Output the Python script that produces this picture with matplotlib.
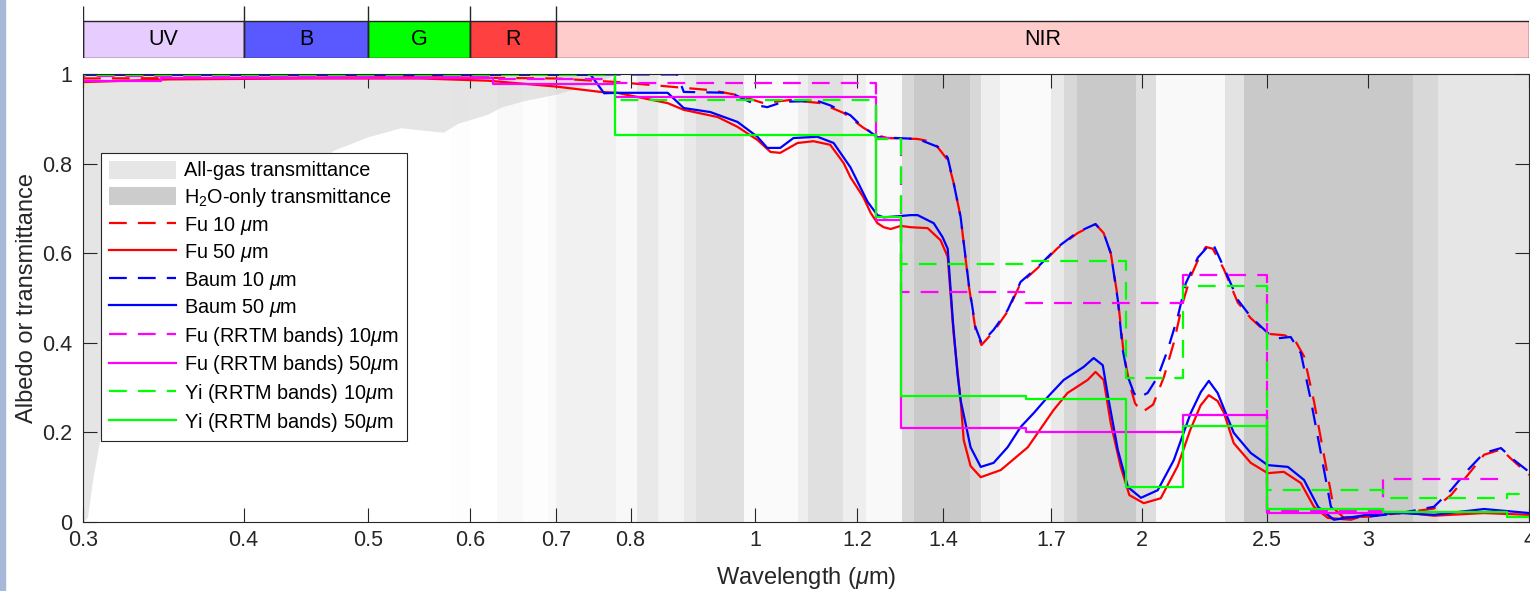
import numpy as np
import matplotlib
matplotlib.use("Agg")
import matplotlib.pyplot as plt
from matplotlib.patches import Patch, Rectangle
from matplotlib.colors import LinearSegmentedColormap

plt.rcParams['font.family'] = ['Liberation Sans', 'DejaVu Sans']
plt.rcParams['mathtext.fontset'] = 'custom'
plt.rcParams['mathtext.rm'] = 'Liberation Sans'
plt.rcParams['mathtext.it'] = 'Liberation Sans:italic'

# --------------------------
# colour bands across the top
# --------------------------
band_edges = [0.3, 0.4, 0.5, 0.6, 0.7, 4.0]
band_names = ["UV", "B", "G", "R", "NIR"]
band_colors = ["#e6ccff", "#5959ff", "#00ff00", "#ff4040", "#ffcccc"]

# --------------------------
# gas transmittance (band-mean)
# --------------------------
allgas_wl = [0.300, 0.3024, 0.3054, 0.309, 0.32, 0.33, 0.35, 0.40, 0.45, 0.47, 0.50,
             0.53, 0.55, 0.572, 0.587, 0.619, 0.634, 0.66, 0.70, 0.72, 0.75, 0.78, 4.0]
allgas_T = [0.0, 0.011, 0.10, 0.18, 0.35, 0.48, 0.60, 0.72, 0.79, 0.83, 0.86,
            0.88, 0.875, 0.87, 0.89, 0.91, 0.926, 0.94, 0.955, 0.965, 0.98, 1.0, 1.0]

h2o_edges = [0.30, 0.58, 0.60, 0.63, 0.66, 0.69, 0.70, 0.74, 0.78, 0.81, 0.84, 0.88,
             0.90, 0.98, 1.08, 1.10, 1.17, 1.22, 1.30, 1.33, 1.47, 1.50, 1.55, 1.70,
             1.74, 1.78, 1.98, 2.05, 2.32, 2.40, 3.25, 3.40, 4.00]
h2o_T = [1.0, 0.97, 1.0, 0.9, 0.97, 0.9, 0.75, 0.75, 0.88, 0.6, 0.8, 0.6,
         0.45, 0.92, 0.7, 0.45, 0.7, 0.9, 0.3, 0.02, 0.3, 0.7, 0.92, 0.6,
         0.3, 0.02, 0.4, 0.9, 0.5, 0.02, 0.3, 0.55]

# --------------------------
# ice cloud albedo curves
# --------------------------
fu10_wl = [0.30, 0.55, 0.70, 0.781, 0.923, 0.969, 1.015, 1.065, 1.124, 1.172, 1.214,
           1.241, 1.268, 1.338, 1.377, 1.412, 1.427, 1.445, 1.466, 1.484, 1.500, 1.533,
           1.572, 1.609, 1.659, 1.720, 1.782, 1.840, 1.867, 1.891, 1.915, 1.935, 1.955,
           1.975, 2.000, 2.040, 2.080, 2.117, 2.151, 2.180, 2.215, 2.242, 2.270, 2.315,
           2.374, 2.430, 2.505, 2.578, 2.625, 2.673, 2.721, 2.770, 2.820, 2.870, 2.997,
           3.180, 3.374, 3.478, 3.585, 3.690, 3.804, 3.895, 4.000]
fu10_val = [0.990, 0.993, 0.990, 0.982, 0.964, 0.953, 0.935, 0.942, 0.935, 0.913, 0.880,
            0.864, 0.857, 0.855, 0.848, 0.808, 0.757, 0.681, 0.530, 0.430, 0.395, 0.425,
            0.470, 0.533, 0.567, 0.612, 0.645, 0.665, 0.645, 0.600, 0.500, 0.377, 0.310,
            0.265, 0.245, 0.262, 0.324, 0.400, 0.489, 0.545, 0.590, 0.614, 0.610, 0.565,
            0.490, 0.455, 0.420, 0.417, 0.410, 0.370, 0.270, 0.150, 0.030, 0.010, 0.012,
            0.020, 0.030, 0.060, 0.105, 0.150, 0.162, 0.135, 0.105]

fu50_wl = [0.30, 0.35, 0.45, 0.55, 0.62, 0.70, 0.758, 0.781, 0.855, 0.880, 0.935, 0.969,
           1.004, 1.028, 1.046, 1.079, 1.110, 1.144, 1.172, 1.186, 1.214, 1.230, 1.245,
           1.259, 1.275, 1.298, 1.321, 1.362, 1.394, 1.412, 1.427, 1.445, 1.453, 1.471,
           1.498, 1.553, 1.630, 1.707, 1.750, 1.814, 1.840, 1.867, 1.891, 1.925, 1.955,
           2.006, 2.068, 2.132, 2.180, 2.221, 2.254, 2.290, 2.315, 2.357, 2.430, 2.505,
           2.578, 2.658, 2.721, 2.790, 2.908, 3.013, 3.180, 3.374, 3.690, 4.000]
fu50_val = [0.982, 0.988, 0.990, 0.990, 0.985, 0.972, 0.960, 0.958, 0.935, 0.920, 0.904, 0.882,
            0.853, 0.826, 0.824, 0.846, 0.850, 0.842, 0.801, 0.770, 0.725, 0.690, 0.667,
            0.658, 0.654, 0.661, 0.658, 0.656, 0.629, 0.592, 0.420, 0.272, 0.183, 0.125,
            0.100, 0.116, 0.167, 0.250, 0.288, 0.317, 0.335, 0.317, 0.220, 0.123, 0.060,
            0.042, 0.053, 0.125, 0.205, 0.260, 0.283, 0.270, 0.245, 0.176, 0.132, 0.109,
            0.112, 0.087, 0.034, 0.009, 0.005, 0.020, 0.022, 0.014, 0.020, 0.016]

baum10_wl = [0.30, 0.870, 0.880, 0.957, 1.004, 1.022, 1.052, 1.118, 1.144, 1.186, 1.208,
             1.245, 1.338, 1.394, 1.412, 1.427, 1.445, 1.466, 1.484, 1.500, 1.533, 1.572,
             1.609, 1.659, 1.720, 1.782, 1.840, 1.867, 1.891, 1.915, 1.932, 1.950, 1.971,
             1.985, 2.020, 2.057, 2.094, 2.132, 2.163, 2.210, 2.250, 2.270, 2.315, 2.374,
             2.430, 2.505, 2.550, 2.610, 2.658, 2.706, 2.755, 2.805, 2.856, 2.997, 3.180,
             3.374, 3.478, 3.585, 3.690, 3.804, 3.895, 4.000]
baum10_val = [0.999, 0.999, 0.960, 0.958, 0.930, 0.926, 0.938, 0.940, 0.930, 0.908, 0.886,
              0.859, 0.855, 0.835, 0.813, 0.757, 0.681, 0.533, 0.435, 0.400, 0.429, 0.473,
              0.536, 0.569, 0.614, 0.647, 0.665, 0.645, 0.600, 0.496, 0.384, 0.324, 0.288,
              0.277, 0.288, 0.324, 0.384, 0.458, 0.533, 0.590, 0.615, 0.622, 0.569, 0.496,
              0.458, 0.422, 0.410, 0.413, 0.377, 0.272, 0.154, 0.034, 0.009, 0.012, 0.020,
              0.034, 0.071, 0.116, 0.154, 0.165, 0.138, 0.112]

baum50_wl = [0.30, 0.745, 0.763, 0.781, 0.855, 0.880, 0.923, 0.969, 1.004, 1.022, 1.046,
             1.071, 1.118, 1.151, 1.186, 1.223, 1.245, 1.259, 1.298, 1.321, 1.338, 1.377,
             1.399, 1.412, 1.425, 1.437, 1.445, 1.471, 1.498, 1.533, 1.572, 1.609, 1.647,
             1.689, 1.738, 1.801, 1.834, 1.864, 1.884, 1.915, 1.950, 1.996, 2.057, 2.117,
             2.182, 2.222, 2.254, 2.290, 2.357, 2.430, 2.505, 2.597, 2.673, 2.741, 2.820,
             2.997, 3.180, 3.374, 3.690, 4.000]
baum50_val = [0.998, 0.998, 0.957, 0.958, 0.958, 0.924, 0.915, 0.893, 0.860, 0.835, 0.835,
              0.857, 0.860, 0.846, 0.792, 0.715, 0.685, 0.680, 0.683, 0.685, 0.685, 0.667,
              0.636, 0.610, 0.450, 0.330, 0.272, 0.167, 0.123, 0.132, 0.167, 0.212, 0.243,
              0.279, 0.317, 0.346, 0.366, 0.350, 0.272, 0.161, 0.078, 0.054, 0.071, 0.138,
              0.243, 0.290, 0.315, 0.288, 0.199, 0.154, 0.127, 0.123, 0.094, 0.034, 0.005,
              0.016, 0.020, 0.016, 0.029, 0.020]

# --------------------------
# RRTM shortwave band averages
# --------------------------
rrtm_edges = [0.263, 0.345, 0.442, 0.625, 0.778, 1.242, 1.299, 1.626, 1.942, 2.151,
              2.500, 3.077, 3.846, 12.195]
fu_rrtm10 = [0.995, 0.995, 0.993, 0.988, 0.980, 0.857, 0.513, 0.489, 0.489, 0.551,
             0.025, 0.096, np.nan]
fu_rrtm50 = [0.985, 0.992, 0.992, 0.977, 0.949, 0.674, 0.210, 0.200, 0.200, 0.239,
             0.020, 0.022, np.nan]
yi_rrtm10 = [0.998, 0.998, 0.998, 0.998, 0.942, 0.855, 0.576, 0.583, 0.321, 0.527,
             0.071, 0.054, 0.062]
yi_rrtm50 = [0.999, 0.999, 0.999, 0.999, 0.864, 0.680, 0.281, 0.275, 0.078, 0.214,
             0.029, 0.022, 0.011]

xtick_vals = [0.3, 0.4, 0.5, 0.6, 0.7, 0.8, 1, 1.2, 1.4, 1.7, 2, 2.5, 3, 4]
xtick_labels = ["0.3", "0.4", "0.5", "0.6", "0.7", "0.8", "1", "1.2", "1.4", "1.7",
                "2", "2.5", "3", "4"]

# --------------------------
# Plot
# --------------------------
fig = plt.figure(figsize=(15.3, 5.91), dpi=100)
fig.patches.append(Rectangle((0, 0), 5 / 1530, 1, transform=fig.transFigure,
                             color="#a8b8d8", zorder=0))

ax_left, ax_w = 83 / 1530, 1446 / 1530
ax = fig.add_axes([ax_left, 69 / 591, ax_w, 448 / 591])
ax_top = fig.add_axes([ax_left, (591 - 58) / 591, ax_w, 52 / 591])

frame = "#262626"

# top colour bar
ax_top.set_xscale("log")
lefts = band_edges[:-1]
widths = [b - a for a, b in zip(band_edges[:-1], band_edges[1:])]
ax_top.bar(lefts, 0.712, width=widths, align="edge", color=band_colors,
           edgecolor=frame, linewidth=1.0)
for a, b, name in zip(band_edges[:-1], band_edges[1:], band_names):
    ax_top.text(np.sqrt(a * b), 0.356, name, ha="center", va="center", fontsize=15.5)
ax_top.vlines(band_edges[:-1], 0, 1, color=frame, linewidth=1.0)
ax_top.set_xlim(0.3, 4)
ax_top.set_ylim(0, 1)
ax_top.axis("off")

# gas shading
ax.set_xscale("log")
ax.fill_between(allgas_wl, allgas_T, 1, color="#e5e5e5", linewidth=0, zorder=0.5)
gray_cmap = LinearSegmentedColormap.from_list(
    "h2o", [(0.784, 0.784, 0.784, 0.0), (0.784, 0.784, 0.784, 1.0)])
ax.pcolormesh(h2o_edges, [0, 1], 1 - np.array([h2o_T]), cmap=gray_cmap,
              vmin=0, vmax=1, shading="flat", zorder=0.6)

dash = (0, (8, 5))
lw = 1.6
ax.plot(fu10_wl, fu10_val, color="#ff0000", ls=dash, lw=lw, label=r"Fu 10 $\mu$m")
ax.plot(fu50_wl, fu50_val, color="#ff0000", lw=lw, label=r"Fu 50 $\mu$m")
ax.plot(baum10_wl, baum10_val, color="#0000ff", ls=dash, lw=lw, label=r"Baum 10 $\mu$m")
ax.plot(baum50_wl, baum50_val, color="#0000ff", lw=lw, label=r"Baum 50 $\mu$m")
ax.step(rrtm_edges, fu_rrtm10 + [fu_rrtm10[-1]], where="post", color="#ff00ff",
        ls=dash, lw=lw, label=r"Fu (RRTM bands) 10$\mu$m")
ax.step(rrtm_edges, fu_rrtm50 + [fu_rrtm50[-1]], where="post", color="#ff00ff",
        lw=lw, label=r"Fu (RRTM bands) 50$\mu$m")
ax.step(rrtm_edges, yi_rrtm10 + [yi_rrtm10[-1]], where="post", color="#00ff00",
        ls=dash, lw=lw, label=r"Yi (RRTM bands) 10$\mu$m")
ax.step(rrtm_edges, yi_rrtm50 + [yi_rrtm50[-1]], where="post", color="#00ff00",
        lw=lw, label=r"Yi (RRTM bands) 50$\mu$m")

ax.set_xlim(0.3, 4)
ax.set_ylim(0, 1)
ax.set_xticks(xtick_vals)
ax.set_xticklabels(xtick_labels)
ax.minorticks_off()
ax.set_yticks([0, 0.2, 0.4, 0.6, 0.8, 1])
ax.set_yticklabels(["0", "0.2", "0.4", "0.6", "0.8", "1"])
ax.tick_params(direction="in", length=10, width=0.8, top=True, right=True,
               labelsize=15.5, color=frame, labelcolor=frame)
ax.tick_params(axis="x", pad=6)
ax.tick_params(axis="y", pad=8)
for sp in ax.spines.values():
    sp.set_color(frame)
    sp.set_linewidth(0.8)
ax.set_xlabel(r"Wavelength ($\mu$m)", fontsize=17, color=frame, labelpad=10)
ax.set_ylabel("Albedo or transmittance", fontsize=17, color=frame, labelpad=3)

handles, labels = ax.get_legend_handles_labels()
handles = [Patch(facecolor="#e6e6e6", edgecolor="none"),
           Patch(facecolor="#cccccc", edgecolor="none")] + handles
labels = ["All-gas transmittance", r"H$_2$O-only transmittance"] + labels
leg = ax.legend(handles, labels, loc="upper left", bbox_to_anchor=(0.0124, 0.824),
                borderaxespad=0, fontsize=14.3, frameon=True, fancybox=False,
                edgecolor=frame, framealpha=1, handlelength=3.4, handleheight=1.0,
                handletextpad=0.4, labelspacing=0.28, borderpad=0.4)
leg.get_frame().set_linewidth(0.8)

fig.savefig("out.png", dpi=100)
